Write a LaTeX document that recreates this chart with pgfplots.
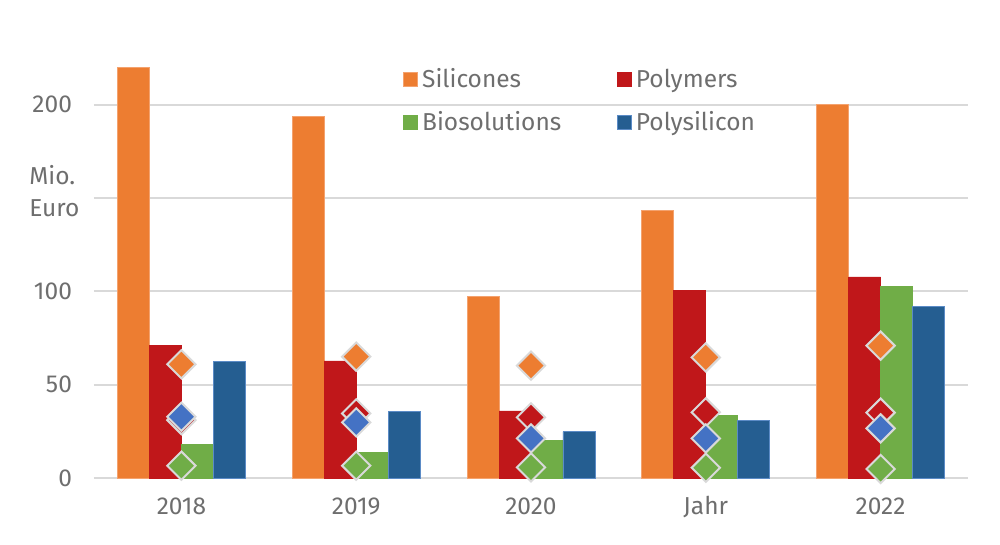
\documentclass[border=0pt]{standalone}
\usepackage{pgfplots}
\pgfplotsset{compat=1.18}
\usepackage{fontspec}
\setmainfont{Fira Sans}
\definecolor{cOr}{HTML}{ED7D31}
\definecolor{cOrL}{HTML}{F4A26E}
\definecolor{cRed}{HTML}{C0171A}
\definecolor{cGr}{HTML}{70AD47}
\definecolor{cBl}{HTML}{255E91}
\definecolor{cBlL}{HTML}{5B8BC6}
\definecolor{cBlD}{HTML}{4472C4}
\definecolor{txt}{HTML}{6E6E6E}
\definecolor{grd}{HTML}{D9D9D9}
\begin{document}
\begin{tikzpicture}
\begin{axis}[name=ax, scale only axis, width=437pt, height=205.35pt,
  xmin=-0.5, xmax=4.5, ymin=0, ymax=220, clip=false,
  xtick={0,1,2,3,4}, xticklabels={2018,2019,2020,Jahr,2022},
  ytick={0,50,100,150,200}, yticklabels={0,50,100,{},200},
  ymajorgrids, major grid style={grd, line width=1pt},
  axis line style={draw=none}, major tick length=0pt,
  tick label style={font=\fontsize{12.25}{15}\selectfont, text=txt},
  /pgf/number format/assume math mode=true,
  yticklabel style={xshift=-7.5pt},
  xticklabel style={yshift=-6pt, text height=8.6pt, text depth=0pt},
  bar width=0.183,
  legend columns=2,
  legend cell align=left,
  legend style={draw=none, fill=none, at={(0.3535,0.996)}, anchor=north west,
    font=\fontsize{12.25}{15}\selectfont, text=txt, inner sep=0pt,
    nodes={inner xsep=2pt, inner ysep=0pt, text height=9pt, text depth=3pt},
    row sep=9.5pt, column sep=0pt},
  legend image code/.code={\fill[#1] (0pt,-2.5pt) rectangle (7pt,4.5pt);},
]
\addplot[ybar, bar shift=-0.2745, fill=cOr, draw=cOrL, line width=0.4pt] coordinates {(0,220) (1,193.9) (2,97.1) (3,143.5) (4,200.3)};
\addlegendentry{\makebox[95.5pt][l]{Silicones}}
\addplot[ybar, bar shift=-0.0915, fill=cRed, draw=cRed, line width=0.4pt] coordinates {(0,71.2) (1,62.7) (2,35.9) (3,100.3) (4,107.7)};
\addlegendentry{Polymers}
\addplot[ybar, bar shift=0.0915, fill=cGr, draw=cGr, line width=0.4pt] coordinates {(0,18.2) (1,13.6) (2,20.2) (3,33.7) (4,102.8)};
\addlegendentry{\makebox[95.5pt][l]{Biosolutions}}
\addplot[ybar, bar shift=0.2745, fill=cBl, draw=cBlL, line width=0.4pt] coordinates {(0,62.3) (1,35.5) (2,24.8) (3,30.7) (4,92.1)};
\addlegendentry{Polysilicon}
\addplot[only marks, forget plot, mark=square*, mark size=5pt, mark options={rotate=45, fill=cOr, draw=grd, line width=1pt}] coordinates {(0,60.9) (1,65) (2,60.2) (3,64.6) (4,70.9)};
\addplot[only marks, forget plot, mark=square*, mark size=5pt, mark options={rotate=45, fill=cRed, draw=grd, line width=1pt}] coordinates {(0,31) (1,34.6) (2,32.5) (3,35.2) (4,35)};
\addplot[only marks, forget plot, mark=square*, mark size=5pt, mark options={rotate=45, fill=cBlD, draw=grd, line width=1pt}] coordinates {(0,32.8) (1,29.8) (2,21.2) (3,21.2) (4,26.6)};
\addplot[only marks, forget plot, mark=square*, mark size=5pt, mark options={rotate=45, fill=cGr, draw=grd, line width=1pt}] coordinates {(0,6.6) (1,6.6) (2,5.7) (3,5.5) (4,4.8)};
\end{axis}
\node[anchor=base west, font=\fontsize{12.25}{15}\selectfont, text=txt, inner sep=0pt] at ([xshift=-32.5pt,yshift=146.5pt]ax.south west) {Mio.};
\node[anchor=base west, font=\fontsize{12.25}{15}\selectfont, text=txt, inner sep=0pt] at ([xshift=-32.5pt,yshift=130.5pt]ax.south west) {Euro};
\pgfresetboundingbox
\path[use as bounding box] ([xshift=-47pt,yshift=-33.5pt]ax.south west) rectangle ([xshift=16pt,yshift=33.65pt]ax.north east);
\end{tikzpicture}
\end{document}
